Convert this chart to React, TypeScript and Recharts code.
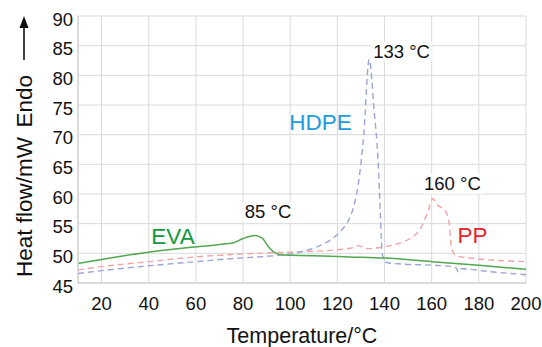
import React from "react";
import { LineChart, Line, XAxis, YAxis, CartesianGrid, ReferenceDot, Label } from "recharts";

// temperatures (°C) and heat flow (mW)
const evaTemp = [10, 25, 40, 55, 70, 76, 80, 85, 88, 91, 94, 97, 110, 125, 140, 160, 180, 200];
const evaFlow = [48.3, 49.3, 50.2, 50.9, 51.5, 51.8, 52.5, 53.0, 52.6, 51.0, 50.0, 49.7, 49.6, 49.4, 49.2, 48.6, 48.0, 47.3];

const hdpeTemp = [10, 25, 40, 60, 75, 90, 100, 105, 112, 118, 122, 125, 127, 129, 131.2, 133.5, 135.6, 137.2, 138.3, 139, 140.4, 147, 160, 168, 170.5, 171.2, 172, 185, 200];
const hdpeFlow = [46.6, 47.3, 47.9, 48.6, 49.1, 49.5, 49.9, 50.3, 51.2, 52.5, 54.0, 55.8, 58.0, 62.0, 70.0, 82.7, 74.0, 66.0, 56.0, 50.0, 48.5, 48.2, 48.0, 47.8, 47.5, 46.9, 47.4, 46.9, 46.4];

const ppTemp = [10, 25, 40, 60, 75, 100, 120, 127, 129, 132, 140, 147, 152, 155, 158.2, 160.5, 162.4, 166, 167.4, 168.4, 170.2, 176.6, 200];
const ppFlow = [47.2, 48.0, 48.6, 49.4, 49.8, 50.2, 50.6, 51.0, 51.3, 50.8, 51.1, 51.8, 52.8, 54.0, 56.8, 59.2, 58.2, 57.0, 55.1, 51.1, 49.6, 49.2, 48.6];

const xTicks = [20, 40, 60, 80, 100, 120, 140, 160, 180, 200];
const yTicks = [45, 50, 55, 60, 65, 70, 75, 80, 85, 90];

const toPoints = (t: number[], v: number[]) => t.map((x, i) => ({ t: x, v: v[i] }));

const FONT = "'Liberation Sans', Arial, Helvetica, sans-serif";

// peak / series annotations, anchored in data units
const peakLabels = [
  { t: 135.2, v: 83.0, text: "133 °C", anchor: "start" },
  { t: 168.8, v: 60.7, text: "160 °C", anchor: "middle" },
  { t: 90.6, v: 55.9, text: "85 °C", anchor: "middle" },
];
const seriesLabels = [
  { t: 99.6, v: 70.8, text: "HDPE", color: "#1e9be0" },
  { t: 170.9, v: 51.8, text: "PP", color: "#e8232a" },
  { t: 41.1, v: 51.6, text: "EVA", color: "#119a3c" },
];

const PeakText = (props: any) => {
  const { cx, cy, text, anchor } = props;
  const w = text.length * 9.4;
  const x0 = anchor === "start" ? cx - 2 : cx - w / 2 - 2;
  return (
    <g>
      <rect x={x0} y={cy - 16} width={w + 4} height={20} fill="#fff" />
      <text x={cx} y={cy} textAnchor={anchor} fontSize={18.5} fill="#111" fontFamily={FONT}>
        {text}
      </text>
    </g>
  );
};

const SeriesText = (props: any) => {
  const { cx, cy, text, color } = props;
  return (
    <text x={cx} y={cy} fontSize={22.5} fill={color} fontFamily={FONT}>
      {text}
    </text>
  );
};

const YTitle = () => {
  const cx = 24;
  return (
    <g fontSize={22.5} fill="#111" fontFamily={FONT}>
      <text
        x={cx}
        y={277}
        transform={`rotate(-90, ${cx}, 277)`}
        textAnchor="start"
        dominantBaseline="central"
      >
        Heat flow/mW
      </text>
      <text
        x={cx}
        y={75}
        transform={`rotate(-90, ${cx}, 75)`}
        textAnchor="end"
        dominantBaseline="central"
      >
        Endo
      </text>
      <line x1={cx} y1={60} x2={cx} y2={26} stroke="#111" strokeWidth={1.6} />
      <polygon points={`${cx},16 ${cx - 4.5},28 ${cx + 4.5},28`} fill="#111" />
    </g>
  );
};

export default function App() {
  return (
    <div style={{ position: "absolute", left: 0, top: 0 }}>
      <LineChart
        width={542}
        height={347}
        margin={{ top: 16, right: 16, bottom: 0, left: 0 }}
        style={{ fontFamily: FONT }}
      >
        <CartesianGrid stroke="#dadada" strokeWidth={1} />
        <XAxis
          dataKey="t"
          type="number"
          domain={[10, 200]}
          ticks={xTicks}
          allowDuplicatedCategory={false}
          height={64}
          tickSize={0}
          tickMargin={14}
          axisLine={{ stroke: "#c8c8c8" }}
          tick={{ fill: "#111", fontSize: 18.5 }}
        >
          <Label
            value="Temperature/°C"
            position="insideBottom"
            offset={4}
            style={{ fill: "#111", fontSize: 21.5 }}
          />
        </XAxis>
        <YAxis
          type="number"
          domain={[45, 90]}
          ticks={yTicks}
          width={78}
          tickSize={0}
          tickMargin={5}
          axisLine={{ stroke: "#c8c8c8" }}
          tick={{ fill: "#111", fontSize: 18.5, dy: 3 }}
          label={<YTitle />}
        />
        <Line
          data={toPoints(ppTemp, ppFlow)}
          dataKey="v"
          type="monotone"
          stroke="#f2a3a3"
          strokeWidth={1.4}
          strokeDasharray="6 4"
          dot={false}
          isAnimationActive={false}
        />
        <Line
          data={toPoints(hdpeTemp, hdpeFlow)}
          dataKey="v"
          type="monotone"
          stroke="#9ba4d9"
          strokeWidth={1.4}
          strokeDasharray="6 4"
          dot={false}
          isAnimationActive={false}
        />
        <Line
          data={toPoints(evaTemp, evaFlow)}
          dataKey="v"
          type="monotone"
          stroke="#4fa84f"
          strokeWidth={1.5}
          dot={false}
          isAnimationActive={false}
        />
        {peakLabels.map((p) => (
          <ReferenceDot
            key={p.text}
            x={p.t}
            y={p.v}
            r={0}
            shape={(s: any) => <PeakText cx={s.cx} cy={s.cy} text={p.text} anchor={p.anchor} />}
          />
        ))}
        {seriesLabels.map((p) => (
          <ReferenceDot
            key={p.text}
            x={p.t}
            y={p.v}
            r={0}
            shape={(s: any) => <SeriesText cx={s.cx} cy={s.cy} text={p.text} color={p.color} />}
          />
        ))}
      </LineChart>
    </div>
  );
}
